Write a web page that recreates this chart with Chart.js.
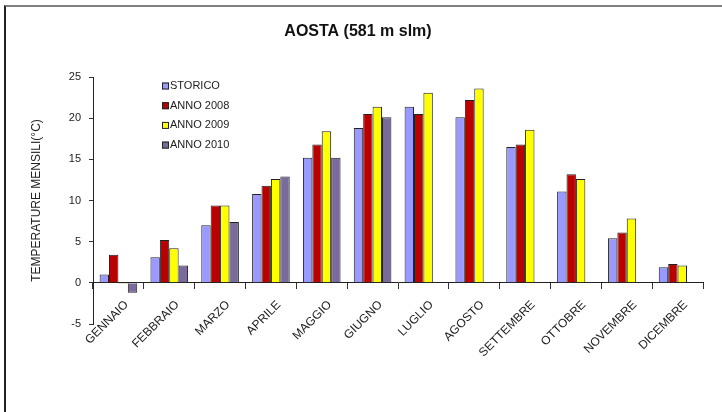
<!DOCTYPE html>
<html>
<head>
<meta charset="utf-8">
<script src="https://cdn.jsdelivr.net/npm/chart.js@4.4.1/dist/chart.umd.min.js"></script>
<style>
  body { margin: 0; background: #fff; }
  #wrap { position: relative; width: 722px; height: 412px; }
  #frame { position: absolute; left: 4px; top: 5px; right: 0; bottom: 0;
           border-top: 2px solid #808080; border-left: 2px solid #222; }
  canvas { position: absolute; left: 0; top: 0; }
</style>
</head>
<body>
<div id="wrap">
  <div id="frame"></div>
  <canvas id="myChart" width="722" height="412"></canvas>
</div>
<script>
const mesi = ['GENNAIO', 'FEBBRAIO', 'MARZO', 'APRILE', 'MAGGIO', 'GIUGNO',
  'LUGLIO', 'AGOSTO', 'SETTEMBRE', 'OTTOBRE', 'NOVEMBRE', 'DICEMBRE'];

const storico = [1.0, 3.1, 7.0, 10.8, 15.2, 18.8, 21.4, 20.1, 16.5, 11.1, 5.4, 1.9];
const anno2008 = [3.4, 5.2, 9.4, 11.8, 16.8, 20.5, 20.5, 22.2, 16.8, 13.2, 6.1, 2.3];
const anno2009 = [-0.1, 4.2, 9.4, 12.6, 18.4, 21.4, 23.1, 23.6, 18.6, 12.6, 7.8, 2.1];
const anno2010 = [-1.2, 2.1, 7.4, 12.9, 15.2, 20.1, null, null, null, null, null, null];

const yTicks = [-5, 0, 5, 10, 15, 20, 25];

const font = 'Arial, "Liberation Sans", sans-serif';

// legend box drawn inside the plot, top-left
const legendInside = {
  id: 'legendInside',
  afterDraw(chart) {
    const ctx = chart.ctx;
    ctx.save();
    ctx.font = '11px ' + font;
    ctx.textBaseline = 'middle';
    chart.data.datasets.forEach((ds, i) => {
      const y = 86 + i * 19.7;
      ctx.fillStyle = ds.backgroundColor;
      ctx.fillRect(162, y - 3.5, 7, 7);
      ctx.strokeStyle = '#222';
      ctx.lineWidth = 1;
      ctx.strokeRect(162.5, y - 3, 6, 6);
      ctx.fillStyle = '#222';
      ctx.fillText(ds.label, 170, y);
    });
    ctx.restore();
  }
};

const data = {
  labels: mesi,
  datasets: [
    { label: 'STORICO', data: storico, backgroundColor: '#9999FF' },
    { label: 'ANNO 2008', data: anno2008, backgroundColor: '#BB0000' },
    { label: 'ANNO 2009', data: anno2009, backgroundColor: '#FFFF00' },
    { label: 'ANNO 2010', data: anno2010, backgroundColor: '#7B6A9C' }
  ].map(d => Object.assign(d, { borderColor: '#222', borderWidth: 1 }))
};

const config = {
  type: 'bar',
  data: data,
  options: {
    responsive: false,
    animation: false,
    layout: { padding: { left: 13, right: 19, top: 0, bottom: 88 } },
    datasets: { bar: { categoryPercentage: 0.74, barPercentage: 1 } },
    plugins: {
      legend: { display: false },
      tooltip: { enabled: false },
      title: {
        display: true,
        text: 'AOSTA (581 m slm)',
        color: '#111',
        font: { family: font, size: 16, weight: 'bold' },
        padding: { top: 22, bottom: 35.8 }
      }
    },
    scales: {
      x: {
        position: { y: 0 },
        offset: true,
        grid: { offset: true, drawOnChartArea: false, tickLength: 6, color: '#333' },
        border: { color: '#222', width: 1 },
        ticks: {
          autoSkip: false, maxRotation: 45, minRotation: 45,
          color: '#222', font: { family: font, size: 12 }, padding: 9, labelOffset: 8
        }
      },
      y: {
        min: -5, max: 25,
        afterFit(scale) { scale.width = 80; },
        afterBuildTicks(scale) { scale.ticks = yTicks.map(v => ({ value: v })); },
        grid: { drawOnChartArea: false, tickLength: 4, color: '#333' },
        border: { color: '#222', width: 1 },
        ticks: { color: '#222', font: { family: font, size: 11 }, padding: 8 },
        title: {
          display: true,
          text: 'TEMPERATURE MENSILI(°C)',
          color: '#222',
          font: { family: font, size: 12 },
          padding: { top: 16 }
        }
      }
    }
  },
  plugins: [legendInside]
};

const myChart = new Chart(document.getElementById('myChart'), config);
</script>
</body>
</html>
